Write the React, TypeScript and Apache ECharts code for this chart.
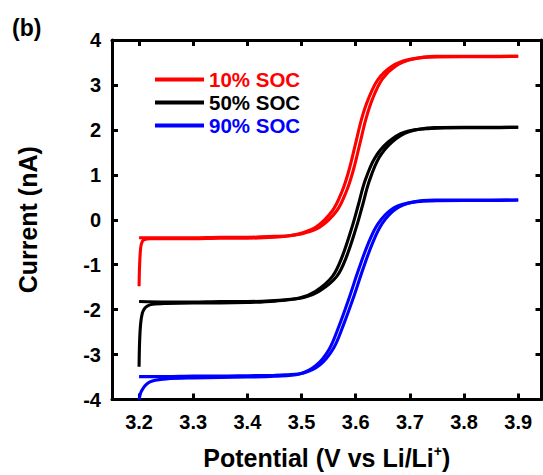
import React, { useEffect, useRef } from "react";
import * as echarts from "echarts";

const X_TICKS = [3.2, 3.3, 3.4, 3.5, 3.6, 3.7, 3.8, 3.9];
const SERIES_NAMES = ["10% SOC", "50% SOC", "90% SOC"];
const SERIES_COLORS = ["#ff0000", "#000000", "#0000ff"];

// Forward sweeps (3.2 V -> 3.9 V), [potential, current]
const red10Fwd: number[][] = [
  [3.2, -1.48], [3.201, -1.0], [3.203, -0.62], [3.206, -0.48], [3.21, -0.44], [3.22, -0.42],
  [3.25, -0.42], [3.3, -0.42], [3.35, -0.41], [3.4, -0.41], [3.45, -0.39], [3.475, -0.36],
  [3.496, -0.31], [3.526, -0.17], [3.557, 0.2], [3.575, 0.64], [3.587, 1.08], [3.599, 1.66],
  [3.611, 2.25], [3.623, 2.68], [3.641, 3.12], [3.666, 3.41], [3.696, 3.56], [3.738, 3.62],
  [3.8, 3.63], [3.85, 3.63], [3.9, 3.64],
];
// Reverse sweeps (3.9 V -> 3.2 V)
const red10Rev: number[][] = [
  [3.9, 3.64], [3.85, 3.64], [3.8, 3.64], [3.746, 3.64], [3.704, 3.57], [3.674, 3.42],
  [3.649, 3.13], [3.631, 2.69], [3.619, 2.25], [3.607, 1.66], [3.595, 1.08], [3.583, 0.64],
  [3.565, 0.2], [3.534, -0.16], [3.504, -0.3], [3.48, -0.35], [3.45, -0.37], [3.4, -0.39],
  [3.35, -0.39], [3.3, -0.4], [3.25, -0.4], [3.21, -0.4], [3.2, -0.4],
];

const black50Fwd: number[][] = [
  [3.2, -3.27], [3.201, -2.7], [3.203, -2.3], [3.206, -2.08], [3.21, -1.98], [3.215, -1.92],
  [3.225, -1.88], [3.25, -1.86], [3.3, -1.85], [3.35, -1.85], [3.4, -1.84], [3.45, -1.81],
  [3.496, -1.74], [3.526, -1.59], [3.557, -1.26], [3.575, -0.82], [3.593, -0.17], [3.605, 0.34],
  [3.617, 0.86], [3.635, 1.37], [3.66, 1.73], [3.69, 1.95], [3.738, 2.03], [3.8, 2.05],
  [3.85, 2.05], [3.9, 2.06],
];
const black50Rev: number[][] = [
  [3.9, 2.06], [3.85, 2.06], [3.8, 2.06], [3.746, 2.05], [3.698, 1.96], [3.668, 1.74],
  [3.643, 1.38], [3.625, 0.86], [3.613, 0.34], [3.601, -0.17], [3.583, -0.82], [3.565, -1.26],
  [3.534, -1.58], [3.504, -1.73], [3.47, -1.78], [3.45, -1.8], [3.4, -1.82], [3.35, -1.82],
  [3.3, -1.83], [3.25, -1.83], [3.2, -1.82],
];

const blue90Fwd: number[][] = [
  [3.2, -4.0], [3.203, -3.85], [3.207, -3.76], [3.212, -3.68], [3.22, -3.61], [3.23, -3.57],
  [3.25, -3.54], [3.3, -3.52], [3.35, -3.51], [3.4, -3.5], [3.45, -3.48], [3.496, -3.43],
  [3.526, -3.25], [3.551, -2.88], [3.569, -2.37], [3.587, -1.77], [3.605, -1.12], [3.623, -0.53],
  [3.641, -0.09], [3.666, 0.23], [3.696, 0.37], [3.738, 0.42], [3.8, 0.43], [3.85, 0.43],
  [3.9, 0.44],
];
const blue90Rev: number[][] = [
  [3.9, 0.44], [3.85, 0.44], [3.8, 0.44], [3.746, 0.44], [3.704, 0.39], [3.674, 0.24],
  [3.649, -0.08], [3.631, -0.52], [3.613, -1.11], [3.595, -1.76], [3.577, -2.35], [3.559, -2.86],
  [3.534, -3.23], [3.504, -3.41], [3.47, -3.45], [3.45, -3.46], [3.4, -3.47], [3.35, -3.48],
  [3.3, -3.48], [3.25, -3.49], [3.2, -3.49],
];

const FONT = "'Liberation Sans', Arial, Helvetica, sans-serif";

export default function App() {
  const ref = useRef<HTMLDivElement>(null);

  useEffect(() => {
    if (!ref.current) return;
    const chart = echarts.init(ref.current, null, { renderer: "svg" });

    const branches = [
      [red10Fwd, red10Rev],
      [black50Fwd, black50Rev],
      [blue90Fwd, blue90Rev],
    ];

    const axisLine = { onZero: false, lineStyle: { color: "#000", width: 3 } };
    const tickStyle = { color: "#000", width: 3 };
    const labelStyle = {
      color: "#000",
      fontSize: 20,
      fontWeight: "bold" as const,
      fontFamily: FONT,
    };

    const xCommon = {
      type: "value" as const,
      min: 3.15,
      max: 3.943,
      splitLine: { show: false },
      axisLine,
    };
    const yCommon = {
      type: "value" as const,
      min: -4,
      max: 4,
      interval: 1,
      splitLine: { show: false },
      axisLine,
    };

    const series: any[] = [];
    SERIES_NAMES.forEach((n, i) => {
      branches[i].forEach((data) => {
        series.push({
          name: n,
          type: "line",
          xAxisIndex: 0,
          yAxisIndex: 0,
          data,
          showSymbol: false,
          symbol: "none",
          smooth: 0.35,
          color: SERIES_COLORS[i],
          lineStyle: { width: 3.1, color: SERIES_COLORS[i] },
          clip: true,
        });
      });
    });

    chart.setOption({
      animation: false,
      backgroundColor: "#fff",
      grid: { left: 112, right: 1.5, top: 40, bottom: 71.5, containLabel: false },
      legend: {
        orient: "vertical",
        left: 150,
        top: 64,
        icon: "rect",
        itemWidth: 49,
        itemHeight: 4,
        itemGap: 2,
        itemTextGap: 11,
        textStyle: { fontSize: 20.5, lineHeight: 20, fontWeight: "bold", fontFamily: FONT },
        data: SERIES_NAMES.map((n, i) => ({ name: n, textStyle: { color: SERIES_COLORS[i] } })),
      },
      xAxis: [
        {
          ...xCommon,
          position: "bottom",
          name: "{a|Potential (V vs Li/Li}{s|+}{a|)}",
          nameLocation: "middle",
          nameGap: 44,
          nameTextStyle: {
            rich: {
              a: { fontSize: 25, fontWeight: "bold", fontFamily: FONT, color: "#000", lineHeight: 28 },
              s: { fontSize: 14, fontWeight: "bold", fontFamily: FONT, color: "#000", verticalAlign: "top", lineHeight: 14 },
            },
          },
          axisTick: { inside: true, length: 6, lineStyle: tickStyle, customValues: X_TICKS },
          axisLabel: { ...labelStyle, margin: 12, customValues: X_TICKS },
        },
        {
          ...xCommon,
          position: "top",
          axisTick: { inside: true, length: 6, lineStyle: tickStyle, customValues: X_TICKS },
          axisLabel: { show: false },
        },
      ],
      yAxis: [
        {
          ...yCommon,
          position: "left",
          name: "Current (nA)",
          nameLocation: "middle",
          nameGap: 72,
          nameTextStyle: { fontSize: 25, fontWeight: "bold", fontFamily: FONT, color: "#000" },
          axisTick: { inside: true, length: 6, lineStyle: tickStyle },
          axisLabel: { ...labelStyle, margin: 11 },
        },
        {
          ...yCommon,
          position: "right",
          axisTick: { inside: true, length: 6, lineStyle: tickStyle },
          axisLabel: { show: false },
        },
      ],
      graphic: [
        {
          type: "text",
          left: 12,
          top: 16,
          style: { text: "(b)", fontSize: 23, fontWeight: "bold", fontFamily: FONT, fill: "#000" },
        },
      ],
      series,
    });

    return () => chart.dispose();
  }, []);

  return (
    <div
      ref={ref}
      style={{ position: "fixed", left: 0, top: 0, width: 543, height: 475 }}
    />
  );
}
